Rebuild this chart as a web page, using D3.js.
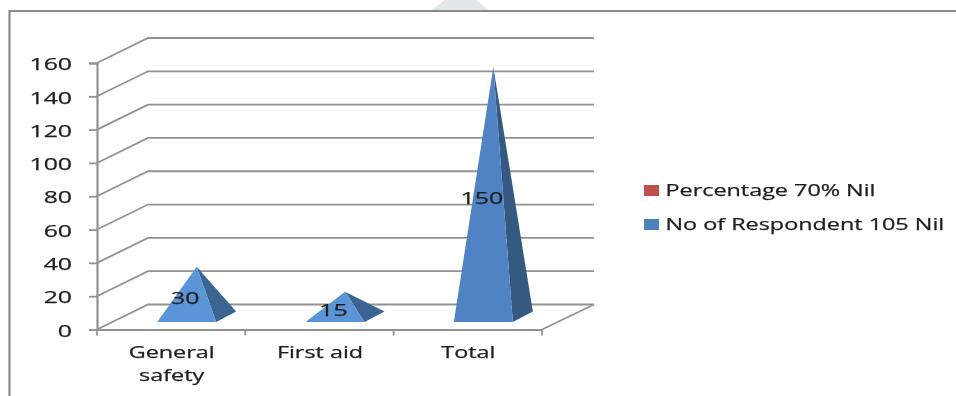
<!DOCTYPE html>
<html>
<head>
<meta charset="utf-8">
<script src="https://cdn.jsdelivr.net/npm/d3@7/dist/d3.min.js"></script>
<style>
html,body{margin:0;padding:0;background:#fff;overflow:hidden}
svg{display:block;filter:blur(0.35px)}
text{font-family:"Open Sans",sans-serif;fill:#1f1f1f;stroke:#1f1f1f;stroke-width:0.25px}
</style>
</head>
<body>
<svg id="chart" width="956" height="396"></svg>
<script>
const categories = ["General safety", "First aid", "Total"];
const respondents = [30, 15, 150];
const percentage = [null, null, null];
const seriesNames = ["Percentage 70% Nil", "No of Respondent 105 Nil"];
const yTicks = [0, 20, 40, 60, 80, 100, 120, 140, 160];

const W = 956, H = 396;
const svg = d3.select("#chart");
const gridColor = "#929292";
const numStretch = 1.55, labelStretch = 1.46;

const y = d3.scaleLinear().domain([0, 160]).range([329.5, 63]);
const x = d3.scaleBand().domain(categories).range([97, 542]);
const depth = {dx: 51, dy: -25};

function wide(sel, factor) {
  sel.each(function () {
    const len = this.getComputedTextLength();
    d3.select(this).attr("textLength", len * factor).attr("lengthAdjust", "spacingAndGlyphs");
  });
  return sel;
}

// watermark fragment and frame
svg.append("path").attr("d", "M431,10L445,0L476,0L489,10Z").attr("fill", "#e2e7ea");
svg.append("path").attr("d", `M9.5,${H}V11H${W}`).attr("fill", "none").attr("stroke", "#8a8a8a").attr("stroke-width", 2.2);

// back wall gridlines with side-wall return
const grid = svg.append("g").attr("fill", "none").attr("stroke", gridColor).attr("stroke-width", 1.8);
yTicks.forEach(t => {
  const p = d3.path();
  p.moveTo(97, y(t));
  p.lineTo(97 + depth.dx, y(t) + depth.dy);
  p.lineTo(542 + depth.dx + 1, y(t) + depth.dy);
  grid.append("path").attr("d", p.toString());
});
// floor right edge
grid.append("path").attr("d", `M542,${y(0)}L${542 + depth.dx + 1},${y(0) + depth.dy}`);

// axes
const yAxis = d3.axisLeft(y).tickValues(yTicks).tickSize(8).tickPadding(17);
const gy = svg.append("g").attr("transform", "translate(97,0)").call(yAxis);
const xAxis = d3.axisBottom(x).tickSize(0).tickFormat("");
const gx = svg.append("g").attr("transform", `translate(0,${y(0)})`).call(xAxis);
[gy, gx].forEach(g => {
  g.selectAll("path.domain").attr("stroke", gridColor).attr("stroke-width", 2.2);
  g.selectAll("line").attr("stroke", gridColor).attr("stroke-width", 1.8);
});
gy.selectAll("text").attr("font-size", 16).attr("fill", "#1f1f1f")
  .attr("font-family", '"Open Sans",sans-serif').attr("dy", "0.42em");
gy.selectAll("text").call(wide, numStretch);

// category boundary ticks
const edges = categories.map(c => x(c)).concat([x.range()[1]]);
svg.append("g").selectAll("line").data(edges).join("line")
  .attr("x1", d => d).attr("x2", d => d)
  .attr("y1", y(0)).attr("y2", y(0) + 6)
  .attr("stroke", gridColor).attr("stroke-width", 1.8);

// category labels
const catLines = categories.map(c => c === "General safety" ? ["General", "safety"] : [c]);
categories.forEach((c, i) => {
  catLines[i].forEach((line, k) => {
    svg.append("text").attr("x", x(c) + x.bandwidth() / 2 + 0.5).attr("y", 358 + k * 23)
      .attr("text-anchor", "middle").attr("font-size", 16).text(line).call(wide, labelStretch);
  });
});

// pyramids
const halfFront = 29.5, sideDx = 20, sideDy = -10.5, floorInset = 7.5, barShift = 15.5;
const bars = svg.append("g").selectAll("g").data(categories).join("g");
bars.each(function (c, i) {
  const g = d3.select(this);
  const v = respondents[i];
  const mid = x(c) + x.bandwidth() / 2 + barShift;
  const fy = y(0) - floorInset;
  const cxx = mid + sideDx / 2;
  const apexY = y(v) - floorInset + sideDy / 2;
  const frontFill = i === 2 ? "#4f83c4" : "#5b95d8";
  const sideFill = i === 2 ? "#355a82" : "#3b6492";
  g.append("path").attr("d", `M${mid + halfFront},${fy}L${mid + halfFront + sideDx},${fy + sideDy}L${cxx},${apexY}Z`).attr("fill", sideFill);
  g.append("path").attr("d", `M${mid - halfFront},${fy}L${mid + halfFront},${fy}L${cxx},${apexY}Z`).attr("fill", frontFill);
});

// data labels
svg.append("g").selectAll("text").data(respondents).join("text")
  .attr("x", (d, i) => x(categories[i]) + x.bandwidth() / 2 + 14)
  .attr("y", d => y(d / 2) - 1)
  .attr("text-anchor", "middle")
  .attr("font-size", 16)
  .text(d => d)
  .call(wide, numStretch);

// legend
const legendColors = ["#c0504d", "#4f81bd"];
const lg = svg.append("g").selectAll("g").data(seriesNames).join("g")
  .attr("transform", (d, i) => `translate(644,${185 + i * 34})`);
lg.append("rect").attr("width", 15).attr("height", 11).attr("fill", (d, i) => legendColors[i]);
lg.append("text").attr("x", 21.5).attr("y", 10.5).attr("font-size", 16).text(d => d).call(wide, labelStretch);
</script>
</body>
</html>
